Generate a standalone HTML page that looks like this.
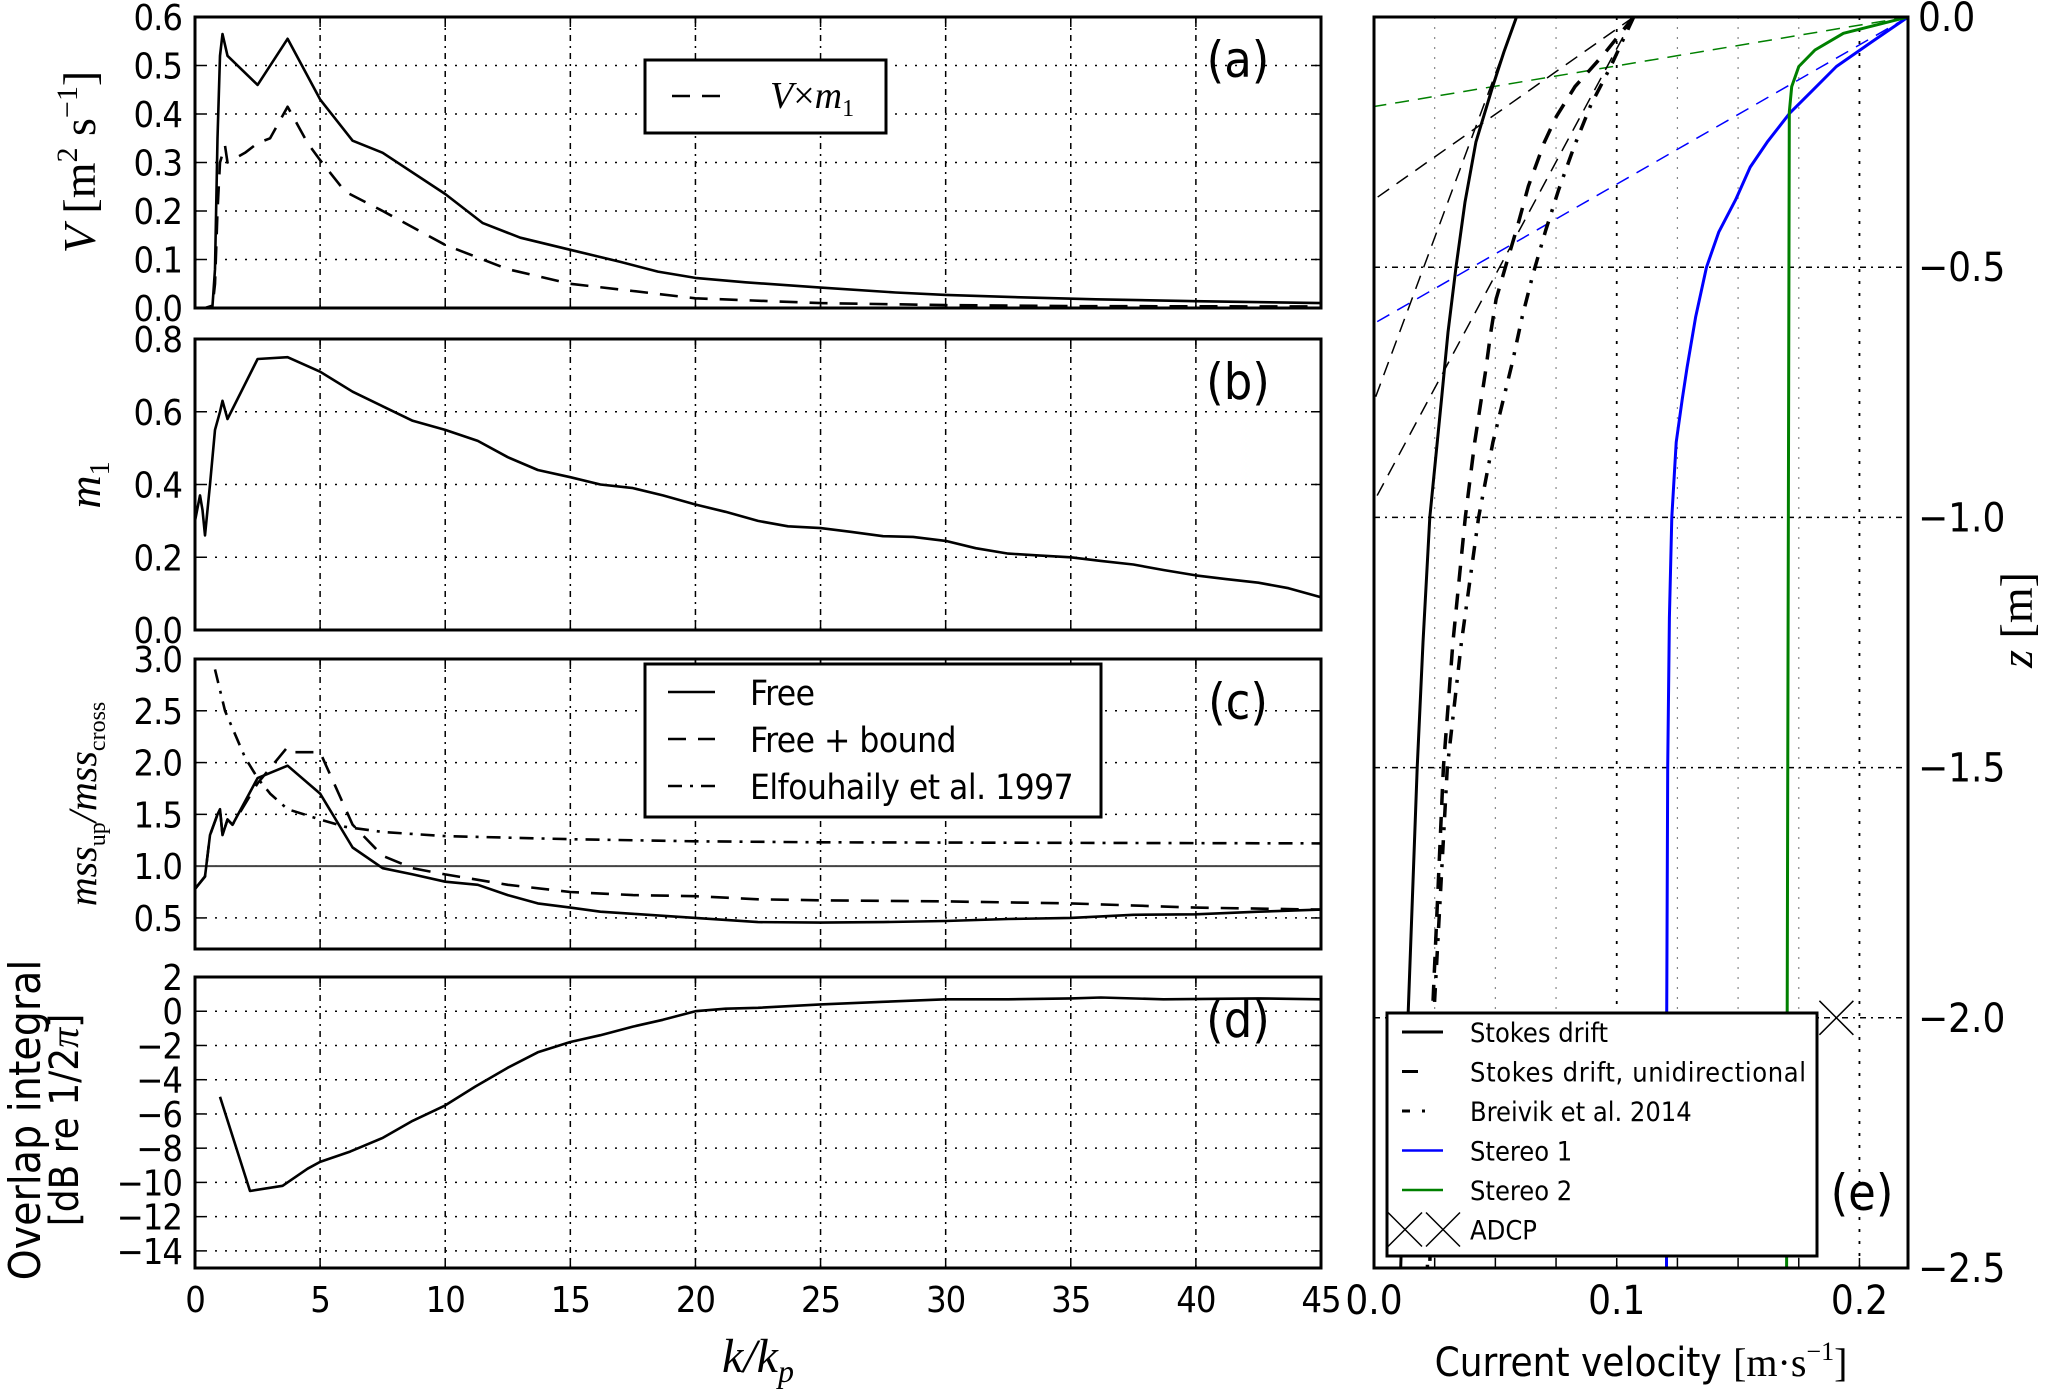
<!DOCTYPE html>
<html><head><meta charset="utf-8"><style>
html,body{margin:0;padding:0;background:#fff}
svg{display:block}
text{font-family:"DejaVu Sans Condensed","DejaVu Sans","Liberation Sans",sans-serif;font-stretch:condensed;fill:#000}
.m{font-family:"Liberation Serif","DejaVu Serif",serif;font-stretch:normal}
</style></head><body>
<svg id="fig" width="2067" height="1398" viewBox="0 0 2067 1398" xmlns="http://www.w3.org/2000/svg"></svg>
<script>
// ---- data: left panels (x = k/kp) ----
const aK  = [0,0.4,0.7,0.8,0.9,1,1.1,1.3,2.5,3.7,5,6.3,7.5,10,11.5,13,15,17,18.5,20,22,25,28,30,33,36,40,45];
const aV  = [0,0,0.005,0.08,0.35,0.52,0.565,0.52,0.46,0.555,0.43,0.345,0.32,0.235,0.175,0.145,0.12,0.095,0.075,0.062,0.053,0.042,0.032,0.027,0.022,0.018,0.014,0.01];
const aK2 = [0,0.4,0.7,0.8,0.9,1,1.2,1.3,2,2.5,3,3.7,4.5,5,6,7.5,10,12.5,15,17.5,20,25,30,35,45];
const aVm = [0,0,0.003,0.05,0.2,0.3,0.335,0.3,0.32,0.34,0.35,0.415,0.34,0.305,0.24,0.2,0.13,0.08,0.05,0.035,0.02,0.01,0.006,0.004,0.003];
const bK  = [0,0.2,0.3,0.4,0.6,0.8,1,1.1,1.3,2.5,3.7,5,6.3,7.5,8.7,10,11.3,12.5,13.7,15,16.2,17.5,18.7,20,21.2,22.5,23.7,25,26.2,27.5,28.7,30,31.2,32.5,33.7,35,36.2,37.5,38.7,40,41.2,42.5,43.7,45];
const bM  = [0.3,0.37,0.33,0.26,0.4,0.55,0.6,0.63,0.58,0.745,0.75,0.71,0.655,0.615,0.575,0.55,0.52,0.475,0.44,0.42,0.4,0.39,0.37,0.345,0.325,0.3,0.285,0.28,0.27,0.258,0.256,0.245,0.225,0.21,0.205,0.2,0.19,0.18,0.165,0.15,0.14,0.13,0.115,0.09];
const cK  = [0,0.4,0.6,0.9,1,1.1,1.3,1.5,2.5,3.7,5,6.3,7.5,8.7,10,11.3,12.5,13.7,15,16.2,17.5,20,22.5,25,27.5,30,32.5,35,37.5,40,42.5,45];
const cFree = [0.78,0.9,1.3,1.5,1.55,1.3,1.45,1.4,1.85,1.97,1.7,1.18,0.98,0.92,0.85,0.82,0.72,0.64,0.6,0.56,0.54,0.5,0.46,0.455,0.46,0.47,0.49,0.5,0.53,0.535,0.56,0.58];
const cK2 = [0,0.4,0.6,0.9,1,1.1,1.3,1.5,2.5,3.7,4,5,6.3,7.5,8.7,10,12.5,15,17.5,20,22.5,25,30,35,40,45];
const cBound = [0.78,0.9,1.3,1.5,1.55,1.3,1.45,1.4,1.8,2.15,2.1,2.1,1.4,1.1,0.98,0.92,0.82,0.75,0.72,0.71,0.68,0.67,0.66,0.64,0.6,0.58];
const cK3 = [0.8,1.2,2,2.5,3,3.7,5,6,7.5,10,15,20,25,45];
const cElf = [2.9,2.5,2.05,1.85,1.7,1.55,1.45,1.38,1.33,1.29,1.26,1.24,1.23,1.22];
const dK  = [1,2.2,3.5,4.5,5,6.2,7.5,8.7,10,11.2,12.5,13.7,15,16.2,17.5,18.7,20,21.2,22.5,25,27.5,30,32.5,35,36.2,38.7,42.5,45];
const dO  = [-5,-10.5,-10.2,-9.2,-8.8,-8.2,-7.4,-6.4,-5.5,-4.4,-3.3,-2.4,-1.8,-1.4,-0.9,-0.5,0,0.15,0.2,0.4,0.55,0.7,0.7,0.75,0.8,0.7,0.75,0.7];
// ---- data: panel e (z in m, velocity in m/s) ----
const eZs = [0,-0.07,-0.14,-0.25,-0.37,-0.5,-0.63,-0.76,-1,-1.25,-1.5,-2,-2.5];
const eStokes = [0.0587,0.0535,0.0488,0.042,0.0375,0.0338,0.0305,0.0279,0.023,0.0202,0.0178,0.014,0.011];
const eZu = [0,-0.075,-0.139,-0.199,-0.25,-0.338,-0.418,-0.49,-0.564,-0.63,-0.71,-0.85,-1,-1.25,-1.5,-2,-2.5];
const eUni = [0.107,0.0946,0.0828,0.0751,0.0702,0.0636,0.0591,0.0547,0.0503,0.0481,0.0459,0.0415,0.0376,0.0325,0.0286,0.024,0.022];
const eZb = [0,-0.099,-0.175,-0.258,-0.345,-0.427,-0.514,-0.6,-0.69,-0.85,-1,-1.25,-1.5,-2,-2.5];
const eBre = [0.107,0.0975,0.0894,0.0825,0.0761,0.0707,0.0655,0.061,0.057,0.049,0.0431,0.036,0.0302,0.0246,0.023];
const eZ1 = [0,-0.05,-0.099,-0.15,-0.192,-0.25,-0.3,-0.365,-0.43,-0.5,-0.6,-0.7,-0.763,-0.85,-1,-1.2,-1.5,-2,-2.5];
const eSt1 = [0.22,0.205,0.1905,0.18,0.1713,0.162,0.155,0.149,0.142,0.137,0.1325,0.129,0.127,0.1245,0.1227,0.1217,0.121,0.1206,0.1205];
const eZ2 = [0,-0.0325,-0.066,-0.099,-0.139,-0.19,-2.5];
const eSt2 = [0.22,0.1934,0.1817,0.175,0.1721,0.1711,0.17];
const eTanV0 = [0.22,0.22,0.107,0.0587,0.107];
const eTanZ0 = [-0.179,-0.6125,-0.365,-0.768,-0.968];
const eTanCol = ['#008000','#0000ff','#000','#000','#000'];
const adcpV = [0.1905];
const adcpZ = [-2.0];
const xTicks = [0,5,10,15,20,25,30,35,40,45];
const eXTicks = [0.0,0.1,0.2];
const eYTicks = [0,-0.5,-1,-1.5,-2,-2.5];

const NS='http://www.w3.org/2000/svg';
const svg=document.getElementById('fig');
function el(tag,attrs,parent,txt){const e=document.createElementNS(NS,tag);for(const k in attrs)e.setAttribute(k,attrs[k]);if(txt!==undefined)e.textContent=txt;(parent||svg).appendChild(e);return e;}

const X0=195,X1=1321;
const sx=v=>X0+(v/45)*(X1-X0);
function mkY(top,bot,lo,hi){return v=>bot-(v-lo)/(hi-lo)*(bot-top);}
function path(xs,ys,fx,fy){return xs.map((x,i)=>(i?'L':'M')+fx(x).toFixed(1)+','+fy(ys[i]).toFixed(1)).join('');}

function panel(name,top,bot,lo,hi,yt,fmt,label){
  const g=el('g',{});
  
  
  const sy=mkY(top,bot,lo,hi);
  xTicks.forEach(t=>{if(t>0&&t<45){const l=el('line',{x1:sx(t),x2:sx(t),y1:top,y2:bot,stroke:'#000','stroke-width':1.5,'stroke-dasharray':'6 5 2 5'},g);}
    el('line',{x1:sx(t),x2:sx(t),y1:bot,y2:bot-10,stroke:'#000','stroke-width':1.5},g);el('line',{x1:sx(t),x2:sx(t),y1:top,y2:top+10,stroke:'#000','stroke-width':1.5},g);});
  yt.forEach(t=>{const y=sy(t);if(y>top+1&&y<bot-1){const l=el('line',{x1:X0,x2:X1,y1:y,y2:y,stroke:'#000','stroke-width':1.5,'stroke-dasharray':'2 8'},g);}
    el('line',{x1:X0,x2:X0+10,y1:y,y2:y,stroke:'#000','stroke-width':1.5},g);el('line',{x1:X1,x2:X1-10,y1:y,y2:y,stroke:'#000','stroke-width':1.5},g);
    const tx=el('text',{x:182,y:y+13,'text-anchor':'end','font-size':36,'letter-spacing':'-1'},g,fmt(t));});
  const pl=el('text',{x:1238,y:top+60,'text-anchor':'middle','font-size':50},g,label);
  
  return {g,sy,top,bot};
}
function frame(g,x0,y0,x1,y1){const r=el('rect',{x:x0,y:y0,width:x1-x0,height:y1-y0,fill:'none',stroke:'#000','stroke-width':3},g);}
function series(g,d,dash,name,color,w){const p=el('path',{d:d,fill:'none',stroke:color||'#000','stroke-width':w||2.6,'stroke-linejoin':'round'},g);if(dash)p.setAttribute('stroke-dasharray',dash);return p;}

// Panel a
const pa=panel('panel-a',17,308,0,0.6,[0,0.1,0.2,0.3,0.4,0.5,0.6],v=>v.toFixed(1),'(a)');
series(pa.g,path(aK,aV,sx,pa.sy),null,'v-line');
series(pa.g,path(aK2,aVm,sx,pa.sy),'18 12','v-times-m1-line');
frame(pa.g,X0,17,X1,308);
const la=el('g',{},pa.g);
el('rect',{x:645,y:60,width:241,height:73,fill:'#fff',stroke:'#000','stroke-width':3},la);
el('line',{x1:672,x2:726,y1:96,y2:96,stroke:'#000','stroke-width':2.6,'stroke-dasharray':'18 12'},la);
const lat=el('text',{x:770,y:108,class:'m','font-size':38,'font-style':'italic'},la);
lat.innerHTML='V<tspan font-style="normal">×</tspan>m<tspan font-size="24" dy="8" font-style="normal">1</tspan>';

const yla=el('text',{transform:'translate(95,162) rotate(-90)','text-anchor':'middle',class:'m','font-size':46},svg);
yla.innerHTML='<tspan font-style="italic">V</tspan> [m<tspan font-size="30" dy="-18">2</tspan><tspan dy="18">  s</tspan><tspan font-size="30" dy="-18">−1</tspan><tspan dy="18">]</tspan>';


// Panel b
const pb=panel('panel-b',339,630,0,0.8,[0,0.2,0.4,0.6,0.8],v=>v.toFixed(1),'(b)');
series(pb.g,path(bK,bM,sx,pb.sy),null,'m1-line');
frame(pb.g,X0,339,X1,630);
const ylb=el('text',{transform:'translate(100,485) rotate(-90)','text-anchor':'middle',class:'m','font-size':46,'font-style':'italic'},svg);
ylb.innerHTML='m<tspan font-size="28" dy="9" font-style="normal">1</tspan>';


// Panel c
const pc=panel('panel-c',659,949,0.2,3.0,[0.5,1.0,1.5,2.0,2.5,3.0],v=>v.toFixed(1),'(c)');
const one=el('line',{x1:X0,x2:X1,y1:pc.sy(1),y2:pc.sy(1),stroke:'#444','stroke-width':2},pc.g);

series(pc.g,path(cK,cFree,sx,pc.sy),null,'free-line');
series(pc.g,path(cK2,cBound,sx,pc.sy),'18 12','free-bound-line');
series(pc.g,path(cK3,cElf,sx,pc.sy),'14 8 3 8','elfouhaily-line');
frame(pc.g,X0,659,X1,949);
const lc=el('g',{},pc.g);
el('rect',{x:645,y:664,width:456,height:153,fill:'#fff',stroke:'#000','stroke-width':3},lc);
const lcNames=['Free','Free + bound','Elfouhaily et al. 1997'];
const lcDash=[null,'18 12','14 8 3 8'];
lcNames.forEach((n,i)=>{const y=692+i*47;const l=el('line',{x1:668,x2:715,y1:y,y2:y,stroke:'#000','stroke-width':2.6},lc);if(lcDash[i])l.setAttribute('stroke-dasharray',lcDash[i]);
  const t=el('text',{x:750,y:y+13,'font-size':35,'letter-spacing':'-0.5'},lc,n);});
const ylc=el('text',{transform:'translate(96,804) rotate(-90)','text-anchor':'middle',class:'m','font-size':40,'font-style':'italic'},svg);
ylc.innerHTML='mss<tspan font-size="24" dy="9" font-style="normal">up</tspan><tspan dy="-9">/mss</tspan><tspan font-size="24" dy="9" font-style="normal">cross</tspan>';


// Panel d
const pd=panel('panel-d',977,1268,-15,2,[2,0,-2,-4,-6,-8,-10,-12,-14],v=>(v<0?'−':'')+Math.abs(v),'(d)');
series(pd.g,path(dK,dO,sx,pd.sy),null,'overlap-line');
frame(pd.g,X0,977,X1,1268);
const yld1=el('text',{transform:'translate(40,1120) rotate(-90)','text-anchor':'middle','font-size':44,'font-stretch':'normal'},svg,'Overlap integral');

const yld2=el('text',{transform:'translate(78,1120) rotate(-90)','text-anchor':'middle','font-size':40,'font-stretch':'normal'},svg);
yld2.innerHTML='[dB re 1/2<tspan class="m" font-style="italic">π</tspan>]';


xTicks.forEach(t=>{const tx=el('text',{x:sx(t),y:1312,'text-anchor':'middle','font-size':36,'letter-spacing':'-1'},svg,String(t));});
const xl=el('text',{x:758,y:1372,'text-anchor':'middle',class:'m','font-size':48,'font-style':'italic'},svg);
xl.innerHTML='k/k<tspan font-size="32" dy="10">p</tspan>';


// Panel e
const EX0=1374,EX1=1908,EY0=17,EY1=1268;
const ex=v=>EX0+v/0.22*(EX1-EX0);
const ey=z=>EY0+(-z)/2.5*(EY1-EY0);
const ge=el('g',{});
for(let i=1;i<9;i++){const v=i*0.025;const major=(i%4===0);
  const l=el('line',{x1:ex(v),x2:ex(v),y1:EY0,y2:EY1,stroke:major?'#000':'#888','stroke-width':major?1.8:1.2,'stroke-dasharray':major?'3 9':'2 8'},ge);
  
  el('line',{x1:ex(v),x2:ex(v),y1:EY1,y2:EY1-10,stroke:'#000','stroke-width':1.5},ge);}
eYTicks.forEach(z=>{const y=ey(z);if(z<0&&z>-2.5){const l=el('line',{x1:EX0,x2:EX1,y1:y,y2:y,stroke:'#000','stroke-width':1.5,'stroke-dasharray':'6 5 2 5'},ge);}
  const t=el('text',{x:1918,y:y+14,'font-size':40,'font-stretch':'normal'},ge,(z<0?'−':'')+Math.abs(z).toFixed(1));});
eXTicks.forEach(v=>{const t=el('text',{x:ex(v),y:1314,'text-anchor':'middle','font-size':40,'font-stretch':'normal'},ge,v.toFixed(1));});
const clip=el('clipPath',{id:'ce'},ge);el('rect',{x:EX0,y:EY0,width:EX1-EX0,height:EY1-EY0},clip);
const gc=el('g',{'clip-path':'url(#ce)'},ge);
eTanV0.forEach((v,i)=>{const l=el('line',{x1:ex(v),y1:ey(0),x2:ex(0),y2:ey(eTanZ0[i]),stroke:eTanCol[i],'stroke-width':1.5,'stroke-dasharray':'14 9'},gc);});
series(gc,path(eStokes,eZs,ex,ey),null,'stokes-drift-line','#000',3);
series(gc,path(eUni,eZu,ex,ey),'16 12','stokes-unidirectional-line','#000',3.5);
series(gc,path(eBre,eZb,ex,ey),'14 10 3 10','breivik-line','#000',3.5);
series(gc,path(eSt1,eZ1,ex,ey),null,'stereo-1-line','#0000ff',3);
series(gc,path(eSt2,eZ2,ex,ey),null,'stereo-2-line','#008000',3);
adcpV.forEach((v,i)=>{const x=ex(v),y=ey(adcpZ[i]);const m=el('path',{d:`M${x-17},${y-17}L${x+17},${y+17}M${x-17},${y+17}L${x+17},${y-17}`,stroke:'#000','stroke-width':1.5,fill:'none'},ge);});
frame(ge,EX0,EY0,EX1,EY1);
const le=el('g',{},ge);
el('rect',{x:1387,y:1013,width:430,height:243,fill:'#fff',stroke:'#000','stroke-width':3},le);
const leNames=['Stokes drift','Stokes drift, unidirectional','Breivik et al. 2014','Stereo 1','Stereo 2','ADCP'];
const leCol=['#000','#000','#000','#0000ff','#008000','#000'];
const leDash=[null,'16 40','8 12 3 30',null,null,null];
leNames.forEach((n,i)=>{const y=1032+i*39.5;
  if(i<5){const l=el('line',{x1:1402,x2:1443,y1:y,y2:y,stroke:leCol[i],'stroke-width':i<3?3:2.5},le);if(leDash[i])l.setAttribute('stroke-dasharray',leDash[i]);}
  else{[1405,1443].forEach(cx=>el('path',{d:`M${cx-17},${y-17}L${cx+17},${y+17}M${cx-17},${y+17}L${cx+17},${y-17}`,stroke:'#000','stroke-width':1.5,fill:'none'},le));}
  const t=el('text',{x:1470,y:y+10,'font-size':27,'textLength':i===1?336:undefined},le,n);if(i!==1)t.removeAttribute('textLength');});
const pe=el('text',{x:1862,y:1210,'text-anchor':'middle','font-size':50},ge,'(e)');
const exl=el('text',{x:1641,y:1376,'text-anchor':'middle','font-size':40,'font-stretch':'normal'},ge);
exl.innerHTML='Current velocity <tspan class="m">[m·s<tspan font-size="26" dy="-16">−1</tspan><tspan dy="16">]</tspan></tspan>';

const eyl=el('text',{transform:'translate(2032,620) rotate(-90)','text-anchor':'middle',class:'m','font-size':46},ge);
eyl.innerHTML='<tspan font-style="italic">z</tspan> [m]';

</script>
</body></html>
